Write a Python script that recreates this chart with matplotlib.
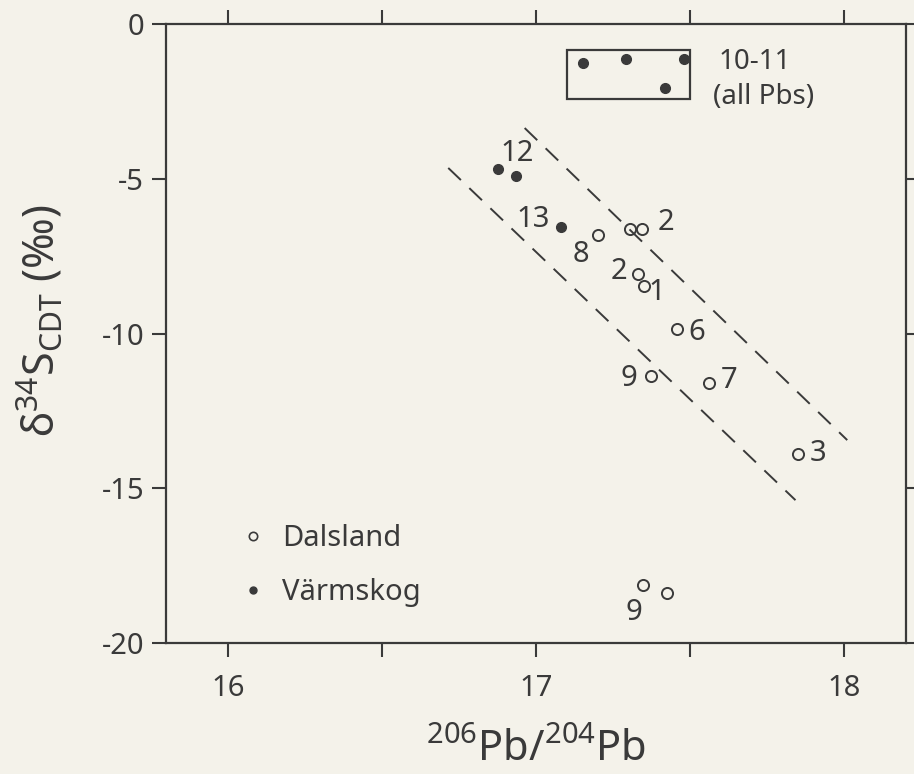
import matplotlib
matplotlib.use('Agg')
import matplotlib.pyplot as plt
from matplotlib.patches import Rectangle
from matplotlib.lines import Line2D

plt.rcParams['font.family'] = ['Noto Sans', 'DejaVu Sans']
plt.rcParams['mathtext.fontset'] = 'custom'
plt.rcParams['mathtext.rm'] = 'Noto Sans'
plt.rcParams['mathtext.it'] = 'Noto Sans:italic'

INK = '#3a3a3a'
PAPER = '#f4f2ea'

# Dalsland (open circles)
dal_x = [17.201, 17.304, 17.343, 17.330, 17.349, 17.456, 17.372, 17.562, 17.849, 17.346, 17.424]
dal_y = [-6.82, -6.62, -6.62, -8.08, -8.47, -9.85, -11.37, -11.60, -13.89, -18.13, -18.38]

# Värmskog (filled dots)
varm_x = [16.876, 16.934, 17.082]
varm_y = [-4.68, -4.91, -6.56]

# Värmskog 10-11 (inside box)
box_x = [17.153, 17.291, 17.481, 17.420]
box_y = [-1.26, -1.13, -1.13, -2.07]

# sample numbers
label_text = ['12', '13', '8', '2', '2', '1', '6', '9', '7', '3', '9']
label_x = [16.937, 16.989, 17.147, 17.420, 17.269, 17.391, 17.523, 17.301, 17.626, 17.916, 17.317]
label_y = [-4.17, -6.33, -7.46, -6.40, -8.01, -8.66, -9.95, -11.44, -11.53, -13.86, -19.0]

# dashed envelope lines
upper_x = [16.963, 18.010]
upper_y = [-3.36, -13.44]
lower_x = [16.715, 17.842]
lower_y = [-4.65, -15.38]

fig = plt.figure(figsize=(9.14, 7.74), dpi=100, facecolor=PAPER)
ax = fig.add_axes([0.182, 0.169, 0.809, 0.800])
ax.set_facecolor(PAPER)

ax.plot(upper_x, upper_y, color=INK, lw=1.4, dashes=(9, 6))
ax.plot(lower_x, lower_y, color=INK, lw=1.4, dashes=(9, 6))

ax.plot(dal_x, dal_y, 'o', ms=8, mfc='none', mec=INK, mew=1.4)
ax.plot(varm_x, varm_y, 'o', ms=7, color=INK)
ax.plot(box_x, box_y, 'o', ms=7, color=INK)

ax.add_patch(Rectangle((17.101, -2.42), 0.40, 1.58, fill=False, ec=INK, lw=1.6))
ax.text(17.71, -1.23, '10-11', fontsize=20, color=INK, ha='center', va='center')
ax.text(17.74, -2.36, '(all Pbs)', fontsize=20, color=INK, ha='center', va='center')

for t, x, y in zip(label_text, label_x, label_y):
    ax.text(x, y, t, fontsize=21, color=INK, ha='center', va='center')

handles = [
    Line2D([], [], ls='none', marker='o', ms=6, mfc='none', mec=INK, mew=1.2),
    Line2D([], [], ls='none', marker='o', ms=5, color=INK),
]
ax.legend(handles, ['Dalsland', 'Värmskog'], loc='upper left',
          bbox_to_anchor=(0.062, 0.235), frameon=False, fontsize=21,
          labelcolor=INK, handletextpad=0.5, labelspacing=0.85, handlelength=1.0)

ax.set_xlim(15.8, 18.2)
ax.set_ylim(-20, 0)
ax.set_xticks([16, 16.5, 17, 17.5, 18])
ax.set_xticklabels(['16', '', '17', '', '18'])
ax.set_yticks([0, -5, -10, -15, -20])
ax.set_yticklabels(['0', '-5', '-10', '-15', '-20'])
ax.tick_params(direction='out', length=10, width=1.5, color=INK,
               labelsize=21, labelcolor=INK, top=True, right=True, pad=6)
ax.tick_params(axis='x', pad=12)
for sp in ax.spines.values():
    sp.set_color(INK)
    sp.set_linewidth(1.6)

ax.set_xlabel(r'$^{206}$Pb/$^{204}$Pb', fontsize=30, color=INK, labelpad=19)
ax.set_ylabel(r'δ$^{34}$S$_{\rm CDT}$ (‰)', fontsize=31, color=INK)
ax.yaxis.set_label_coords(-0.135, 0.52)

plt.savefig('out.png', dpi=100, facecolor=PAPER)
plt.close()
